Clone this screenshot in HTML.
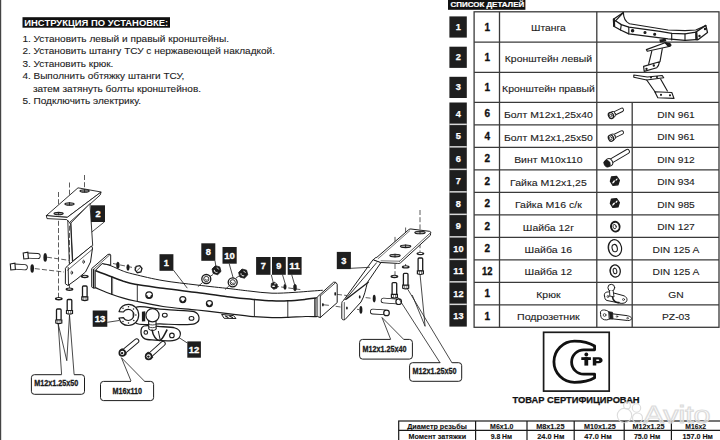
<!DOCTYPE html>
<html><head><meta charset="utf-8">
<style>
html,body{margin:0;padding:0;background:#fff;}
svg{display:block;font-family:"Liberation Sans",sans-serif;}
</style></head>
<body>
<svg width="720" height="440" viewBox="0 0 720 440">
<rect width="720" height="440" fill="#fff"/>
<rect x="0" y="0" width="1.2" height="440" fill="#444"/>
<rect x="22.5" y="17.2" width="147.5" height="10.5" fill="#111"/>
<text x="24.3" y="25.9" fill="#fff" font-weight="bold" font-size="8.4" textLength="143.9" lengthAdjust="spacingAndGlyphs">ИНСТРУКЦИЯ ПО УСТАНОВКЕ:</text>
<g fill="#1a1a1a" stroke="#1a1a1a" stroke-width="0.1" font-size="9.3">
<text x="22.4" y="41.5" textLength="206.6" lengthAdjust="spacingAndGlyphs">1. Установить левый и правый кронштейны.</text>
<text x="22.4" y="54.0" textLength="252.6" lengthAdjust="spacingAndGlyphs">2. Установить штангу ТСУ с нержавеющей накладкой.</text>
<text x="22.4" y="66.6" textLength="91.0" lengthAdjust="spacingAndGlyphs">3. Установить крюк.</text>
<text x="22.4" y="79.0" textLength="161.9" lengthAdjust="spacingAndGlyphs">4. Выполнить обтяжку штанги ТСУ,</text>
<text x="32.9" y="91.5" textLength="168.1" lengthAdjust="spacingAndGlyphs">затем затянуть болты кронштейнов.</text>
<text x="22.4" y="103.9" textLength="118.6" lengthAdjust="spacingAndGlyphs">5. Подключить электрику.</text>
</g>
<rect x="448" y="0" width="77.4" height="9.8" fill="#111"/>
<text x="450.5" y="7.2" fill="#fff" stroke="#fff" stroke-width="0.2" font-weight="bold" font-size="7.6" textLength="73.7" lengthAdjust="spacingAndGlyphs">СПИСОК ДЕТАЛЕЙ</text>
<g stroke="#3a3a3a" stroke-width="1.3" fill="none">
<rect x="474.1" y="11.8" width="244.89999999999998" height="315.5"/>
<line x1="474.1" y1="42.2" x2="719.0" y2="42.2"/>
<line x1="474.1" y1="72.4" x2="719.0" y2="72.4"/>
<line x1="474.1" y1="102.3" x2="719.0" y2="102.3"/>
<line x1="474.1" y1="124.8" x2="719.0" y2="124.8"/>
<line x1="474.1" y1="147.3" x2="719.0" y2="147.3"/>
<line x1="474.1" y1="169.8" x2="719.0" y2="169.8"/>
<line x1="474.1" y1="192.3" x2="719.0" y2="192.3"/>
<line x1="474.1" y1="214.8" x2="719.0" y2="214.8"/>
<line x1="474.1" y1="237.3" x2="719.0" y2="237.3"/>
<line x1="474.1" y1="259.8" x2="719.0" y2="259.8"/>
<line x1="474.1" y1="282.3" x2="719.0" y2="282.3"/>
<line x1="474.1" y1="304.8" x2="719.0" y2="304.8"/>
<line x1="499.5" y1="11.8" x2="499.5" y2="327.3"/>
<line x1="596.8" y1="11.8" x2="596.8" y2="327.3"/>
<line x1="632.2" y1="102.3" x2="632.2" y2="327.3"/>
</g>
<g fill="#1e1e1e">
<rect x="449.4" y="16.4" width="17.4" height="21.2"/>
<rect x="449.4" y="46.7" width="17.4" height="21.2"/>
<rect x="449.4" y="76.8" width="17.4" height="21.2"/>
<rect x="449.4" y="102.5" width="17.4" height="224.1"/>
</g>
<g fill="#d8d8d8">
<rect x="449.4" y="123.6" width="17.4" height="1.5"/>
<rect x="449.4" y="146.1" width="17.4" height="1.5"/>
<rect x="449.4" y="168.6" width="17.4" height="1.5"/>
<rect x="449.4" y="191.1" width="17.4" height="1.5"/>
<rect x="449.4" y="213.6" width="17.4" height="1.5"/>
<rect x="449.4" y="236.1" width="17.4" height="1.5"/>
<rect x="449.4" y="258.6" width="17.4" height="1.5"/>
<rect x="449.4" y="281.1" width="17.4" height="1.5"/>
<rect x="449.4" y="303.6" width="17.4" height="1.5"/>
</g>
<g fill="#fff" stroke="#fff" stroke-width="0.25" font-weight="bold" font-size="9.2" text-anchor="middle">
<text x="458.4" y="30.1">1</text>
<text x="458.4" y="60.4">2</text>
<text x="458.4" y="90.4">3</text>
<text x="458.4" y="116.6">4</text>
<text x="458.4" y="139.2">5</text>
<text x="458.4" y="161.7">6</text>
<text x="458.4" y="184.2">7</text>
<text x="458.4" y="206.7">8</text>
<text x="458.4" y="229.2">9</text>
<text x="458.4" y="251.7" textLength="10.2" lengthAdjust="spacingAndGlyphs">10</text>
<text x="458.4" y="274.2" textLength="10.2" lengthAdjust="spacingAndGlyphs">11</text>
<text x="458.4" y="296.7" textLength="10.2" lengthAdjust="spacingAndGlyphs">12</text>
<text x="458.4" y="319.2" textLength="10.2" lengthAdjust="spacingAndGlyphs">13</text>
</g>
<g fill="#111" stroke="#111" stroke-width="0.3" font-weight="bold" font-size="10" text-anchor="middle">
<text x="487.2" y="30.6">1</text>
<text x="487.2" y="60.9">1</text>
<text x="487.2" y="90.9">1</text>
<text x="487.2" y="117.1">6</text>
<text x="487.2" y="139.7">4</text>
<text x="487.2" y="162.2">2</text>
<text x="487.2" y="184.7">2</text>
<text x="487.2" y="207.2">2</text>
<text x="487.2" y="229.7">2</text>
<text x="487.2" y="252.2">2</text>
<text x="487.2" y="274.7" textLength="10.4" lengthAdjust="spacingAndGlyphs">12</text>
<text x="487.2" y="297.2">1</text>
<text x="487.2" y="319.7">1</text>
</g>
<g fill="#1a1a1a" stroke="#1a1a1a" stroke-width="0.1" font-size="9.1" text-anchor="middle">
<text x="548.4" y="31.4" textLength="34.7" lengthAdjust="spacingAndGlyphs">Штанга</text>
<text x="548.4" y="61.7" textLength="87.2" lengthAdjust="spacingAndGlyphs">Кронштейн левый</text>
<text x="548.4" y="91.8" textLength="92.6" lengthAdjust="spacingAndGlyphs">Кронштейн правый</text>
<text x="548.4" y="118.0" textLength="88.9" lengthAdjust="spacingAndGlyphs">Болт М12х1,25х40</text>
<text x="676.0" y="117.8" textLength="37.7" lengthAdjust="spacingAndGlyphs">DIN 961</text>
<text x="548.4" y="140.5" textLength="88.9" lengthAdjust="spacingAndGlyphs">Болт М12х1,25х50</text>
<text x="676.0" y="140.2" textLength="37.7" lengthAdjust="spacingAndGlyphs">DIN 961</text>
<text x="548.4" y="163.0" textLength="68.5" lengthAdjust="spacingAndGlyphs">Винт М10х110</text>
<text x="676.0" y="162.8" textLength="37.7" lengthAdjust="spacingAndGlyphs">DIN 912</text>
<text x="548.4" y="185.5" textLength="76.7" lengthAdjust="spacingAndGlyphs">Гайка М12х1,25</text>
<text x="676.0" y="185.2" textLength="37.7" lengthAdjust="spacingAndGlyphs">DIN 934</text>
<text x="548.4" y="208.0" textLength="67.0" lengthAdjust="spacingAndGlyphs">Гайка М16 с/к</text>
<text x="676.0" y="207.8" textLength="37.7" lengthAdjust="spacingAndGlyphs">DIN 985</text>
<text x="548.4" y="230.5" textLength="51.2" lengthAdjust="spacingAndGlyphs">Шайба 12г</text>
<text x="676.0" y="230.2" textLength="37.7" lengthAdjust="spacingAndGlyphs">DIN 127</text>
<text x="548.4" y="253.0" textLength="47.6" lengthAdjust="spacingAndGlyphs">Шайба 16</text>
<text x="676.0" y="252.8" textLength="46.8" lengthAdjust="spacingAndGlyphs">DIN 125 A</text>
<text x="548.4" y="275.4" textLength="47.6" lengthAdjust="spacingAndGlyphs">Шайба 12</text>
<text x="676.0" y="275.2" textLength="46.8" lengthAdjust="spacingAndGlyphs">DIN 125 A</text>
<text x="548.4" y="297.9" textLength="24.2" lengthAdjust="spacingAndGlyphs">Крюк</text>
<text x="676.0" y="297.8" textLength="15.4" lengthAdjust="spacingAndGlyphs">GN</text>
<text x="548.4" y="320.4" textLength="62.7" lengthAdjust="spacingAndGlyphs">Подрозетник</text>
<text x="676.0" y="320.2" textLength="28.0" lengthAdjust="spacingAndGlyphs">PZ-03</text>
</g>
<g fill="none" stroke="#1c1c1c" stroke-width="1.15" stroke-linejoin="round" stroke-linecap="round">
<!-- row1 beam -->
<path d="M623.4,12.5 L613.4,19.2 L613.8,26.3 L620.5,30 L628.8,33.8 L668,38.8 L685,40.4 L695.8,39.6 L698.3,39.6 L707.5,32.5 L705.8,25.4 L695.8,32.1 L685,33.8 L671.7,33.3 L660,31.3 L628.8,27.1 L621.3,24.6 L615.5,20.8 L613.4,19.2" stroke-width="1.3"/>
<path d="M623.4,12.5 C623.4,17.5 625,21.5 629.5,23.8 L668,30 L685,30.6 L695.8,30 L705.8,25.4"/>
<path d="M621.3,24.6 L620.5,30 M628.8,27.1 L628.8,33.8 M671.7,33.3 L671.7,40 M685,33.8 L685,40.4 M695.8,32.1 L695.8,39.6 M623.4,12.5 L615.5,20.8"/>
<path d="M614,19.5 L614.2,26" stroke-width="2"/>
<path d="M696.5,32.5 L697,39.5" stroke-width="1.8"/>
<circle cx="632.6" cy="30.8" r="1.2" fill="#1c1c1c"/>
<circle cx="645" cy="32.5" r="1" fill="#1c1c1c"/>
<circle cx="654.7" cy="34.2" r="1" fill="#1c1c1c"/>
<circle cx="705" cy="29" r="0.6" fill="#1c1c1c"/>
<circle cx="699.5" cy="36" r="0.6" fill="#1c1c1c"/>
<!-- row2 bracket left -->
<path d="M646.4,49.6 L665,42.7 L670.5,44.5 L670.2,46.2 L647.3,51.2 Z" fill="#fff"/>
<path d="M665,42.7 L669.5,43.2 L671,45.2 L668.5,46.5 Z" fill="#1c1c1c"/>
<path d="M659.3,39.6 L665.5,38.8 L666.5,41.2 L660,42.4 Z" fill="#1c1c1c" stroke="none"/>
<path d="M651.8,51.2 L648.6,64.3 M662.3,48.7 L660,61.6"/>
<path d="M643.6,66.4 L659.5,61.8 C659,64.5 658,66.5 656.8,67.7 L644.2,71.4 Z" fill="#fff"/>
<circle cx="646.5" cy="68.8" r="0.6" fill="#1c1c1c"/><circle cx="653.8" cy="65.5" r="0.6" fill="#1c1c1c"/>
<!-- row3 bracket right -->
<path d="M633.8,75 L647.4,77 L662.2,75.5 L663.7,77.7 L646.7,80 L633.8,77.2 Z"/>
<path d="M646.7,80 L655.5,92.5 M660.7,79.2 L667.4,91"/>
<path d="M654.8,91.8 L671.8,92.5 L674,98.4 L657.8,97.7 Z"/>
<circle cx="661" cy="94.8" r="0.5" fill="#1c1c1c"/><circle cx="670" cy="95.3" r="0.5" fill="#1c1c1c"/>
<circle cx="651" cy="77.5" r="0.5" fill="#1c1c1c"/><circle cx="657" cy="77" r="0.5" fill="#1c1c1c"/>
</g>
<g stroke="#1c1c1c" stroke-linecap="round" stroke-linejoin="round">
<!-- row4/5 bolts -->
<g id="bolt1">
<line x1="613" y1="114.2" x2="621.8" y2="109.9" stroke-width="4.4"/>
<line x1="613" y1="114.2" x2="621.8" y2="109.9" stroke-width="2.6" stroke="#fff"/>
<ellipse cx="613" cy="114.3" rx="2.4" ry="3.1" transform="rotate(-25 613 114.3)" fill="#fff" stroke-width="0.8"/>
<ellipse cx="611" cy="115.5" rx="2.5" ry="3.2" transform="rotate(-25 611 115.5)" fill="#fff" stroke-width="1.25"/>
<ellipse cx="610.8" cy="115.6" rx="1.2" ry="1.6" transform="rotate(-25 610.8 115.6)" fill="none" stroke-width="0.7"/>
</g>
<use href="#bolt1" transform="translate(0,22.6)"/>
<!-- row6 long screw -->
<line x1="609.5" y1="162" x2="627.3" y2="151.6" stroke-width="5.2"/>
<line x1="609.5" y1="162" x2="627.3" y2="151.6" stroke-width="3.4" stroke="#fff"/>
<ellipse cx="609.3" cy="162.3" rx="3.2" ry="3.9" transform="rotate(-30 609.3 162.3)" fill="#fff" stroke-width="1"/>
<ellipse cx="607" cy="163.6" rx="2.9" ry="3.6" transform="rotate(-30 607 163.6)" fill="#1c1c1c" stroke-width="0.8"/>
<!-- nuts -->
<g id="nut1">
<path d="M611.5,176.8 L616.6,176.4 L619.4,180.3 L618,184.8 L612.8,185.3 L610.3,181.3 Z" fill="#1c1c1c" stroke-width="1.2"/>
<ellipse cx="613.6" cy="181.9" rx="0.8" ry="1.9" transform="rotate(40 613.6 181.9)" fill="#fff" stroke="none"/><ellipse cx="616.5" cy="179.6" rx="0.7" ry="1.4" transform="rotate(40 616.5 179.6)" fill="#fff" stroke="none"/>
</g>
<use href="#nut1" transform="translate(0,22.2)"/>
<!-- washers -->
<ellipse cx="615.3" cy="226.7" rx="4.3" ry="4.9" transform="rotate(-15 615.3 226.7)" fill="none" stroke-width="1.9"/>
<path d="M611.5,228.5 C611,225 612,222.5 614,222" fill="none" stroke-width="1.2"/>
<ellipse cx="614.6" cy="226.6" rx="1.6" ry="2.2" transform="rotate(-15 614.6 226.6)" fill="none" stroke-width="0.8"/>
<ellipse cx="614.9" cy="248" rx="6.6" ry="8.4" transform="rotate(-12 614.9 248)" fill="none" stroke-width="1.2"/>
<path d="M609.5,252.5 C607.5,247 609,241 613,240" fill="none" stroke-width="0.8"/>
<ellipse cx="614.7" cy="248.1" rx="2.6" ry="3.7" transform="rotate(-12 614.7 248.1)" fill="none" stroke-width="1.1"/>
<ellipse cx="615.2" cy="271" rx="5.1" ry="6.1" transform="rotate(-12 615.2 271)" fill="none" stroke-width="1.3"/>
<path d="M611,274.5 C609.8,271 610.5,267 613,265.5" fill="none" stroke-width="0.7"/>
<ellipse cx="615" cy="271" rx="1.8" ry="2.8" transform="rotate(-12 615 271)" fill="none" stroke-width="1"/>
<!-- hook -->
<path d="M604.5,296 C603.5,293 606,291.5 610,292 L623,295.5 C627,296.5 628,300 626,302 C624,304 620,303.5 617,302.5 L607,300.5 C605,300 604.8,298 604.5,296 Z" fill="#fff" stroke-width="1"/>
<circle cx="611.3" cy="287.7" r="3.4" fill="#fff" stroke-width="1"/>
<path d="M609.5,290.5 L609.8,296 L614,297 L613.2,290.8" fill="#fff" stroke-width="0.9"/>
<path d="M612.5,297 C613,301 616,303 619,302.5" fill="none" stroke-width="1.6"/>
<circle cx="608" cy="296.5" r="1" fill="none" stroke-width="0.7"/>
<circle cx="623.5" cy="299.5" r="1" fill="none" stroke-width="0.7"/>
<!-- socket plate -->
<path d="M600.5,313 C599.8,311 602,309.8 604.5,310 C607,310.3 609,311.5 610,313.5 L626,315.5 C630,316 632,317.5 631.5,319 C631,320.5 628,320.8 626,320.3 L610,318.6 C608.5,320 605,320.5 602.5,319 C600.5,317.5 600.5,315 600.5,313 Z" fill="#fff" stroke-width="1"/>
<path d="M609,311.8 L612.5,312.3 L613,318.8 L609.5,319 Z" fill="#1c1c1c" stroke-width="0.8"/>
<circle cx="604.6" cy="315" r="1.4" fill="none" stroke-width="0.7"/>
<circle cx="617" cy="316.5" r="0.8" fill="none" stroke-width="0.6"/>
<circle cx="627.5" cy="318.2" r="0.8" fill="none" stroke-width="0.6"/>
</g>

<rect x="543.6" y="332.3" width="65.6" height="58.8" fill="none" stroke="#1a1a1a" stroke-width="1.7"/>
<path d="M594.6,346 C590,343 583,341.1 574.5,341.1 A20.6,20.6 0 0 0 574.5,382.3 C583,382.3 590,380.5 594.6,377.7 L594.6,374.2 L583.8,374.2 A12.2,12.2 0 0 1 583.8,349.8 L594.6,349.8 Z" fill="none" stroke="#111" stroke-width="2.8" stroke-linejoin="round"/>
<g fill="#111">
<rect x="581.3" y="357.2" width="9.6" height="2.8"/>
<rect x="584.4" y="357.2" width="3.8" height="8.4"/>
<circle cx="586.3" cy="354.5" r="1.9"/>
<path d="M592.8,357.2 L598.8,357.2 C601.5,357.2 602.6,358.6 602.6,360.3 C602.6,362 601.3,363.2 598.8,363.2 L596.3,363.2 L596.3,365.6 L592.8,365.6 Z M596.3,359.5 L596.3,361 L598.3,361 C599,361 599.3,360.7 599.3,360.25 C599.3,359.8 599,359.5 598.3,359.5 Z" fill-rule="evenodd"/>
</g>
<text x="512.5" y="403.4" font-weight="bold" font-size="9.4" fill="#111" stroke="#111" stroke-width="0.25" textLength="127.1" lengthAdjust="spacingAndGlyphs">ТОВАР СЕРТИФИЦИРОВАН</text>
<g stroke="#1a1a1a" stroke-width="1.2" fill="none">
<rect x="398.7" y="421" width="323.3" height="30"/>
<line x1="398.7" y1="430.4" x2="722" y2="430.4"/>
<line x1="475.6" y1="421" x2="475.6" y2="442"/>
<line x1="527.0" y1="421" x2="527.0" y2="442"/>
<line x1="574.2" y1="421" x2="574.2" y2="442"/>
<line x1="624.2" y1="421" x2="624.2" y2="442"/>
<line x1="671.4" y1="421" x2="671.4" y2="442"/>
</g>
<g fill="#111" stroke="#111" stroke-width="0.12" font-weight="bold" font-size="8" text-anchor="middle">
<text x="437.0" y="428.6" textLength="59.7" lengthAdjust="spacingAndGlyphs">Диаметр резьбы</text>
<text x="501.8" y="428.6" textLength="23.4" lengthAdjust="spacingAndGlyphs">M6x1.0</text>
<text x="550.3" y="428.6" textLength="28.3" lengthAdjust="spacingAndGlyphs">M8x1.25</text>
<text x="599.9" y="428.6" textLength="31.9" lengthAdjust="spacingAndGlyphs">M10x1.25</text>
<text x="648.5" y="428.6" textLength="31.9" lengthAdjust="spacingAndGlyphs">M12x1.25</text>
<text x="695.7" y="428.6" textLength="20.8" lengthAdjust="spacingAndGlyphs">M16x2</text>
<text x="437.3" y="438.6" textLength="57.7" lengthAdjust="spacingAndGlyphs">Момент затяжки</text>
<text x="501.4" y="438.6" textLength="21.4" lengthAdjust="spacingAndGlyphs">9.8 Нм</text>
<text x="550.8" y="438.6" textLength="27.2" lengthAdjust="spacingAndGlyphs">24.0 Нм</text>
<text x="598.0" y="438.6" textLength="27.3" lengthAdjust="spacingAndGlyphs">47.0 Нм</text>
<text x="647.1" y="438.6" textLength="26.4" lengthAdjust="spacingAndGlyphs">75.0 Нм</text>
<text x="697.7" y="438.6" textLength="30.5" lengthAdjust="spacingAndGlyphs">157.0 Нм</text>
</g>
<g stroke="#333" stroke-width="0.8" fill="none" stroke-dasharray="5,2.2">
<line x1="58.5" y1="192" x2="58.5" y2="298" />
<line x1="69.5" y1="182.5" x2="69.5" y2="289" />
<line x1="84.5" y1="175" x2="84.5" y2="191" />
<line x1="47" y1="257.2" x2="69.5" y2="260.4" />
<line x1="34.8" y1="268.6" x2="64" y2="272" />
<line x1="113" y1="263.5" x2="139" y2="268.8" />
<line x1="420" y1="210" x2="420" y2="232" />
<line x1="405.6" y1="227.5" x2="405.6" y2="246" />
<line x1="395" y1="236.9" x2="395" y2="255.5" />
<line x1="420" y1="236" x2="420" y2="253" />
<line x1="405.6" y1="264" x2="405.6" y2="266" />
<line x1="395" y1="264" x2="395" y2="276" />
<line x1="337" y1="294.4" x2="372.5" y2="298.4" />
<line x1="328.5" y1="305.3" x2="359" y2="309.6" />
<line x1="274" y1="286" x2="302" y2="289.8" />
</g>
<g stroke="#1c1c1c" stroke-width="0.9" fill="none" stroke-linejoin="round" stroke-linecap="round">
<path d="M78.4,187.9 L101.1,192.0 L67.5,217.2 L46.4,215.9 Z" fill="#fff"/>
<path d="M46.4,215.9 L47.0,218.6 L66.8,219.6 L69.5,222.5 L100.2,195.0 L101.1,192.0 L67.5,217.2 Z" fill="#fff"/>
<ellipse cx="84.6" cy="190.9" rx="4.6" ry="1.2" fill="#aaa" stroke-width="1.1"/>
<line x1="84.6" y1="189.70000000000002" x2="84.6" y2="192.1" stroke-width="0.9"/>
<ellipse cx="69.5" cy="203.9" rx="4.6" ry="1.2" fill="#aaa" stroke-width="1.1"/>
<line x1="69.5" y1="202.70000000000002" x2="69.5" y2="205.1" stroke-width="0.9"/>
<ellipse cx="58.6" cy="213.6" rx="4.6" ry="1.2" fill="#aaa" stroke-width="1.1"/>
<line x1="58.6" y1="212.4" x2="58.6" y2="214.79999999999998" stroke-width="0.9"/>
<path d="M70.9,223.0 L90.0,203.5 L92.7,245.5 L72.7,261.0 Z" fill="#fff"/>
<line x1="67.8" y1="220.5" x2="69.3" y2="263" />
<line x1="70.9" y1="223" x2="72.7" y2="261" />
<path d="M65.7,268.0 L67.5,265.8 L91.5,246.0 L92.5,248.0 L90.5,262.0 L85.5,272.0 L77.0,279.0 L68.0,285.5 L65.7,284.0 Z" fill="#fff" stroke-width="1"/>
<line x1="68.2" y1="267.5" x2="68.5" y2="285" />
<line x1="67.6" y1="270.2" x2="92.5" y2="249.2" stroke-width="0.7"/>
<ellipse cx="83.6" cy="261.8" rx="0.8" ry="1.6" stroke-width="0.8"/>
<ellipse cx="71.8" cy="272.7" rx="0.8" ry="1.6" stroke-width="0.8"/>
<path d="M102.1,263.5 C103.6,263.9 107.5,264.5 111.0,265.8 C114.5,267.1 119.4,269.8 123.4,271.2 C127.4,272.6 128.4,272.9 135.0,274.5 C141.6,276.1 152.7,278.9 163.0,280.6 C173.3,282.4 185.8,283.6 197.0,285.0 C208.2,286.4 221.2,287.7 230.0,288.7 C238.8,289.7 243.0,290.4 250.0,291.1 C257.0,291.9 264.7,293.0 272.0,293.2 C279.3,293.4 287.5,292.8 294.0,292.4 C300.5,292.0 306.3,291.5 311.0,291.1 C315.7,290.8 320.5,290.4 322.4,290.3 L316.3,316.6 L316.3,316.6 C314.5,316.6 310.3,316.4 305.6,316.5 C300.9,316.6 293.6,317.2 288.0,317.4 C282.4,317.6 278.3,317.8 272.0,317.6 C265.7,317.4 257.0,316.9 250.0,316.3 C243.0,315.7 238.8,314.9 230.0,313.8 C221.2,312.8 208.2,311.2 197.0,310.0 C185.8,308.8 173.3,308.0 163.0,306.5 C152.7,305.0 141.6,302.4 135.0,301.0 C128.4,299.6 127.3,299.3 123.4,298.2 C119.5,297.1 116.2,296.1 111.5,294.3 C106.8,292.5 97.9,288.7 95.2,287.6 L95.2,270.5 Z" fill="#fff" stroke="none"/>
<path d="M102.1,263.5 C103.6,263.9 107.5,264.5 111.0,265.8 C114.5,267.1 119.4,269.8 123.4,271.2 C127.4,272.6 128.4,272.9 135.0,274.5 C141.6,276.1 152.7,278.9 163.0,280.6 C173.3,282.4 185.8,283.6 197.0,285.0 C208.2,286.4 221.2,287.7 230.0,288.7 C238.8,289.7 243.0,290.4 250.0,291.1 C257.0,291.9 264.7,293.0 272.0,293.2 C279.3,293.4 287.5,292.8 294.0,292.4 C300.5,292.0 306.3,291.5 311.0,291.1 C315.7,290.8 320.5,290.4 322.4,290.3" stroke-width="1"/>
<path d="M95.2,270.5 C97.9,271.6 106.8,275.0 111.5,276.8 C116.2,278.6 119.5,279.9 123.4,281.2 C127.3,282.4 128.4,283.1 135.0,284.3 C141.6,285.5 152.7,286.9 163.0,288.3 C173.3,289.7 185.8,291.1 197.0,292.5 C208.2,293.9 221.2,295.9 230.0,297.0 C238.8,298.1 243.0,298.5 250.0,299.1 C257.0,299.7 265.7,300.5 272.0,300.8 C278.3,301.1 282.4,301.1 288.0,300.8 C293.6,300.6 300.9,299.8 305.6,299.3 C310.3,298.8 314.5,298.2 316.3,298.0" stroke-width="1.5"/>
<path d="M95.2,287.6 C97.9,288.7 106.8,292.5 111.5,294.3 C116.2,296.1 119.5,297.1 123.4,298.2 C127.3,299.3 128.4,299.6 135.0,301.0 C141.6,302.4 152.7,305.0 163.0,306.5 C173.3,308.0 185.8,308.8 197.0,310.0 C208.2,311.2 221.2,312.8 230.0,313.8 C238.8,314.9 243.0,315.7 250.0,316.3 C257.0,316.9 265.7,317.4 272.0,317.6 C278.3,317.8 282.4,317.6 288.0,317.4 C293.6,317.2 300.9,316.6 305.6,316.5 C310.3,316.4 314.5,316.6 316.3,316.6" stroke-width="1.2"/>
<line x1="95.2" y1="270.5" x2="102.1" y2="263.5" stroke-width="0.9"/>
<line x1="111.5" y1="276.8" x2="111.5" y2="294.3" stroke-width="0.9"/>
<line x1="137.3" y1="284.6" x2="137.3" y2="301.4" stroke-width="0.9"/>
<line x1="254.4" y1="299.5" x2="254.4" y2="316.6" stroke-width="0.9"/>
<line x1="287.8" y1="300.8" x2="287.8" y2="317.4" stroke-width="0.9"/>
<line x1="314.7" y1="298.2" x2="314.7" y2="316.5" stroke-width="0.9"/>
<line x1="112.6" y1="277.2" x2="112.6" y2="294.6" stroke-width="0.6"/>
<path d="M92.0,268.3 L108.0,254.4 L110.1,254.2 L110.7,255.0 L110.7,265.1 L102.1,263.5 L95.2,270.5 L95.2,288.1 L92.8,288.0 L92.0,287.2 Z" fill="#fff" stroke-width="1"/>
<line x1="94.1" y1="268.9" x2="109.6" y2="255" stroke-width="0.7"/>
<line x1="93.6" y1="269.5" x2="93.6" y2="287.5" stroke-width="1.4"/>
<path d="M316.3,298.0 L317.3,297.0 L333.6,282.2 L335.7,282.3 L337.2,284.2 L337.2,302.6 L320.3,317.5 L317.3,316.5 L316.3,316.6 Z" fill="#fff" stroke-width="1"/>
<line x1="320.3" y1="296" x2="320.3" y2="317.5" stroke-width="0.9"/>
<line x1="320.3" y1="296" x2="335.7" y2="282.6" stroke-width="0.8"/>
<line x1="317.6" y1="297.5" x2="317.6" y2="316.2" stroke-width="0.6"/>
<ellipse cx="335.2" cy="293.9" rx="0.9" ry="1.8" fill="#1c1c1c" stroke="none"/>
<ellipse cx="322.9" cy="304.7" rx="0.9" ry="1.8" fill="#1c1c1c" stroke="none"/>
<line x1="322.9" y1="304.7" x2="328.5" y2="305.3" stroke-width="0.7"/>
<circle cx="149.1" cy="295.1" r="3.3" fill="#fff" stroke-width="1.2"/>
<path d="M146.79999999999998,295.6 A2.3,2.3 0 0 0 151.4,295.6" stroke-width="1.4"/>
<circle cx="182.8" cy="299.6" r="3" fill="#fff" stroke-width="1.2"/>
<path d="M180.8,300.1 A2,2 0 0 0 184.8,300.1" stroke-width="1.4"/>
<circle cx="209.4" cy="303.6" r="3" fill="#fff" stroke-width="1.2"/>
<path d="M207.4,304.1 A2,2 0 0 0 211.4,304.1" stroke-width="1.4"/>
<path d="M222.0,314.5 L233.5,315.6 L236.0,318.5 L224.5,318.3 Z" fill="#fff" stroke-width="1"/>
<path d="M225.5,316 L228,317.5 M229.5,316 L232.5,317.6" stroke-width="1.1"/>
</g>
<g stroke="#1c1c1c" fill="#1c1c1c">
<ellipse cx="117.9" cy="265.3" rx="1.4" ry="3.3" stroke-width="0.5"/>
<ellipse cx="128" cy="267.4" rx="1.3" ry="3" stroke-width="0.5"/>
<path d="M136.2,266.4 L139.8,265.6 L142,268.5 L140.9,272 L137.3,272.7 L135.1,269.8 Z" fill="#fff" stroke-width="1.3"/>
<path d="M137.2,270.5 L140.2,267.6" fill="none" stroke-width="0.8"/>
<polygon points="221.0,271.4 217.7,274.7 213.2,273.5 212.0,269.0 215.3,265.7 219.8,266.9" stroke-width="0.8" stroke-linejoin="round"/>
<path d="M214.3,269.9 A2.3,2.3 0 0 0 217.5,272.3" fill="none" stroke="#fff" stroke-width="0.9"/>
<path d="M216.7,267.8 A2.3,2.3 0 0 1 218.8,269.59999999999997" fill="none" stroke="#fff" stroke-width="0.7"/>
<polygon points="247.8,274.8 244.4,278.2 239.8,277.0 238.6,272.4 242.0,269.0 246.6,270.2" stroke-width="0.8" stroke-linejoin="round"/>
<path d="M241.0,273.3 A2.3,2.3 0 0 0 244.2,275.70000000000005" fill="none" stroke="#fff" stroke-width="0.9"/>
<path d="M243.39999999999998,271.20000000000005 A2.3,2.3 0 0 1 245.5,273.0" fill="none" stroke="#fff" stroke-width="0.7"/>
<circle cx="206.3" cy="279" r="4.5" fill="#fff" stroke-width="1.3"/>
<circle cx="206.3" cy="279" r="2.6" fill="none" stroke-width="0.9"/>
<path d="M205.0,278.8 A1.4,1.4 0 0 0 207.5,279.6" fill="none" stroke-width="0.8"/>
<circle cx="232.7" cy="282.3" r="4.5" fill="#fff" stroke-width="1.3"/>
<circle cx="232.7" cy="282.3" r="2.6" fill="none" stroke-width="0.9"/>
<path d="M231.39999999999998,282.1 A1.4,1.4 0 0 0 233.89999999999998,282.90000000000003" fill="none" stroke-width="0.8"/>
<path d="M271.4,283.4 L274.6,282.3 L277.3,284.5 L277.1,288.1 L273.8,289.3 L271.1,287.1 Z" fill="#1c1c1c" stroke-width="0.8"/>
<ellipse cx="273.6" cy="286.3" rx="1.6" ry="0.8" fill="#fff" stroke="none"/>
<ellipse cx="275" cy="283.8" rx="1" ry="0.5" fill="#fff" stroke="none"/>
<ellipse cx="285" cy="286.8" rx="1.3" ry="2.8" stroke-width="0.4"/>
<ellipse cx="295" cy="287.6" rx="1.6" ry="3.4" stroke-width="0.4"/>
</g>
<g>
<line x1="27.5" y1="255.6" x2="37.6" y2="256.1" stroke="#1c1c1c" stroke-width="6.0" stroke-linecap="round"/>
<line x1="27.5" y1="255.6" x2="37.6" y2="256.1" stroke="#fff" stroke-width="4.4" stroke-linecap="round"/>
<path d="M23.2,253 L27.8,252.2 L28.4,258.6 L23.8,259 Z" fill="#fff" stroke="#1c1c1c" stroke-width="1.1"/>
<line x1="14.5" y1="266.6" x2="24.8" y2="267.3" stroke="#1c1c1c" stroke-width="6.0" stroke-linecap="round"/>
<line x1="14.5" y1="266.6" x2="24.8" y2="267.3" stroke="#fff" stroke-width="4.4" stroke-linecap="round"/>
<path d="M10.3,264 L14.9,263.2 L15.4,269.6 L10.8,270 Z" fill="#fff" stroke="#1c1c1c" stroke-width="1.1"/>
<ellipse cx="45.2" cy="257.4" rx="1.8" ry="4.3" fill="#1c1c1c"/>
<ellipse cx="32.2" cy="268.5" rx="1.8" ry="4.2" fill="#1c1c1c"/>
<ellipse cx="58.8" cy="298.7" rx="3.9" ry="1.7" fill="#1c1c1c"/>
<ellipse cx="58.8" cy="298.5" rx="2.1" ry="0.55" fill="#fff"/>
<rect x="56.5" y="309" width="4.6" height="11.199999999999989" rx="1" fill="#fff" stroke="#1c1c1c" stroke-width="1.3"/>
<path d="M55.8,320.0 L61.8,320.0 L61.8,323.0 Q58.8,324.40000000000003 55.8,323.0 Z" fill="#fff" stroke="#1c1c1c" stroke-width="1.2"/>
<path d="M57.8,320.2 L57.8,323.40000000000003 M60.0,320.2 L60.0,323.40000000000003" stroke="#1c1c1c" stroke-width="0.6"/>
<ellipse cx="69.5" cy="289.2" rx="3.9" ry="1.7" fill="#1c1c1c"/>
<ellipse cx="69.5" cy="289.0" rx="2.1" ry="0.55" fill="#fff"/>
<rect x="67.2" y="299.5" width="4.6" height="12.0" rx="1" fill="#fff" stroke="#1c1c1c" stroke-width="1.3"/>
<path d="M66.5,310.5 L72.5,310.5 L72.5,313.5 Q69.5,314.90000000000003 66.5,313.5 Z" fill="#fff" stroke="#1c1c1c" stroke-width="1.2"/>
<path d="M68.5,310.7 L68.5,313.90000000000003 M70.7,310.7 L70.7,313.90000000000003" stroke="#1c1c1c" stroke-width="0.6"/>
<ellipse cx="84.8" cy="276.5" rx="3.9" ry="1.7" fill="#1c1c1c"/>
<ellipse cx="84.8" cy="276.3" rx="2.1" ry="0.55" fill="#fff"/>
<rect x="82.5" y="286" width="4.6" height="11.199999999999989" rx="1" fill="#fff" stroke="#1c1c1c" stroke-width="1.3"/>
<path d="M81.8,296.9 L87.8,296.9 L87.8,299.9 Q84.8,301.3 81.8,299.9 Z" fill="#fff" stroke="#1c1c1c" stroke-width="1.2"/>
<path d="M83.8,297.09999999999997 L83.8,300.3 M86.0,297.09999999999997 L86.0,300.3" stroke="#1c1c1c" stroke-width="0.6"/>
<ellipse cx="420.4" cy="253.6" rx="3.9" ry="1.7" fill="#1c1c1c"/>
<ellipse cx="420.4" cy="253.4" rx="2.1" ry="0.55" fill="#fff"/>
<rect x="418.09999999999997" y="258" width="4.6" height="13" rx="1" fill="#fff" stroke="#1c1c1c" stroke-width="1.3"/>
<path d="M417.4,270.8 L423.4,270.8 L423.4,273.8 Q420.4,275.20000000000005 417.4,273.8 Z" fill="#fff" stroke="#1c1c1c" stroke-width="1.2"/>
<path d="M419.4,271.0 L419.4,274.20000000000005 M421.59999999999997,271.0 L421.59999999999997,274.20000000000005" stroke="#1c1c1c" stroke-width="0.6"/>
<ellipse cx="405.7" cy="266.9" rx="3.9" ry="1.7" fill="#1c1c1c"/>
<ellipse cx="405.7" cy="266.7" rx="2.1" ry="0.55" fill="#fff"/>
<rect x="403.4" y="273.4" width="4.6" height="12.300000000000011" rx="1" fill="#fff" stroke="#1c1c1c" stroke-width="1.3"/>
<path d="M402.7,285.2 L408.7,285.2 L408.7,288.2 Q405.7,289.6 402.7,288.2 Z" fill="#fff" stroke="#1c1c1c" stroke-width="1.2"/>
<path d="M404.7,285.4 L404.7,288.6 M406.9,285.4 L406.9,288.6" stroke="#1c1c1c" stroke-width="0.6"/>
<ellipse cx="394.4" cy="276.5" rx="3.9" ry="1.7" fill="#1c1c1c"/>
<ellipse cx="394.4" cy="276.3" rx="2.1" ry="0.55" fill="#fff"/>
<rect x="392.09999999999997" y="282.6" width="4.6" height="12.299999999999955" rx="1" fill="#fff" stroke="#1c1c1c" stroke-width="1.3"/>
<path d="M391.4,294.4 L397.4,294.4 L397.4,297.4 Q394.4,298.8 391.4,297.4 Z" fill="#fff" stroke="#1c1c1c" stroke-width="1.2"/>
<path d="M393.4,294.59999999999997 L393.4,297.8 M395.59999999999997,294.59999999999997 L395.59999999999997,297.8" stroke="#1c1c1c" stroke-width="0.6"/>
<line x1="383.5" y1="300.5" x2="396.5" y2="301.5" stroke="#1c1c1c" stroke-width="5.6" stroke-linecap="round"/>
<line x1="383.5" y1="300.5" x2="396.5" y2="301.5" stroke="#fff" stroke-width="4" stroke-linecap="round"/>
<circle cx="398.7" cy="301.7" r="2.8" fill="#fff" stroke="#1c1c1c" stroke-width="1.2"/>
<ellipse cx="374.2" cy="298.6" rx="1.5" ry="3.8" fill="#1c1c1c"/>
<line x1="372.8" y1="311.6" x2="384.4" y2="312.3" stroke="#1c1c1c" stroke-width="5.6" stroke-linecap="round"/>
<line x1="372.8" y1="311.6" x2="384.4" y2="312.3" stroke="#fff" stroke-width="4" stroke-linecap="round"/>
<circle cx="386.5" cy="312.9" r="2.8" fill="#fff" stroke="#1c1c1c" stroke-width="1.2"/>
<ellipse cx="360.9" cy="309.9" rx="1.5" ry="3.8" fill="#1c1c1c"/>
<line x1="122.3" y1="352.9" x2="136.6" y2="341" stroke="#1c1c1c" stroke-width="5.4" stroke-linecap="round"/>
<line x1="122.3" y1="352.9" x2="136.6" y2="341" stroke="#fff" stroke-width="3.5" stroke-linecap="round"/>
<line x1="122.3" y1="352.9" x2="124.6" y2="351.0" stroke="#1c1c1c" stroke-width="7.6"/>
<line x1="122.3" y1="352.9" x2="124.0" y2="351.5" stroke="#fff" stroke-width="5.6"/>
<circle cx="122.3" cy="352.9" r="3.8" fill="#1c1c1c"/>
<circle cx="122.3" cy="352.9" r="2.1" fill="#fff"/>
<circle cx="122.1" cy="353.09999999999997" r="1.2" fill="#1c1c1c"/>
<line x1="148.6" y1="356.4" x2="163" y2="343.6" stroke="#1c1c1c" stroke-width="5.4" stroke-linecap="round"/>
<line x1="148.6" y1="356.4" x2="163" y2="343.6" stroke="#fff" stroke-width="3.5" stroke-linecap="round"/>
<line x1="148.6" y1="356.4" x2="150.8" y2="354.4" stroke="#1c1c1c" stroke-width="7.6"/>
<line x1="148.6" y1="356.4" x2="150.2" y2="354.9" stroke="#fff" stroke-width="5.6"/>
<circle cx="148.6" cy="356.4" r="3.8" fill="#1c1c1c"/>
<circle cx="148.6" cy="356.4" r="2.1" fill="#fff"/>
<circle cx="148.4" cy="356.59999999999997" r="1.2" fill="#1c1c1c"/>
</g>
<g stroke="#1c1c1c" stroke-width="1" fill="#fff" stroke-linejoin="round">
<path d="M144.0,326.0 C147.2,325.0 154.8,326.3 160.0,326.6 C165.2,326.9 171.6,327.0 175.0,328.0 C178.4,329.0 179.7,330.7 180.2,332.5 C180.7,334.3 179.7,337.4 178.0,338.8 C176.3,340.2 173.8,340.7 170.0,340.9 C166.2,341.1 159.2,340.6 155.0,340.2 C150.8,339.8 146.8,339.9 144.5,338.6 C142.2,337.3 141.1,334.6 141.0,332.5 C140.9,330.4 140.8,327.0 144.0,326.0 Z" stroke-width="1.3"/>
<circle cx="145.8" cy="332.4" r="1.8" fill="none" stroke-width="1.1"/>
<circle cx="171.9" cy="335.4" r="2.3" fill="none" stroke-width="1.1"/>
<path d="M136.2,307.2 C140.2,304.9 153.0,308.7 160.0,309.2 C167.0,309.7 172.3,309.9 178.0,310.3 C183.7,310.7 190.5,310.4 194.0,311.6 C197.5,312.8 198.8,315.5 199.0,317.5 C199.2,319.5 198.2,322.4 195.0,323.6 C191.8,324.8 185.8,324.6 180.0,324.6 C174.2,324.7 167.3,324.1 160.0,323.9 C152.7,323.7 140.2,326.0 136.2,323.2 C132.2,320.4 132.2,309.5 136.2,307.2 Z" stroke-width="1.2"/>
<ellipse cx="164.8" cy="315.2" rx="2.4" ry="1.9" fill="none" stroke-width="1.1"/>
<ellipse cx="191.5" cy="318.4" rx="2.4" ry="1.9" fill="none" stroke-width="1.1"/>
<path d="M119,311.6 C120.5,306.5 124.5,304.3 128.5,304.3 C134,304.3 138.6,308.8 138.7,314.9 C138.7,320.8 134.2,325.5 128.3,325.5 C123.8,325.5 120.3,322.6 119,318 L123.4,317.6 C124.3,319.4 126.2,320.5 128.2,320.5 C131.3,320.5 133.8,318 133.8,314.9 C133.8,311.8 131.3,309.3 128.2,309.3 C126.2,309.3 124.4,310.4 123.4,312 Z" stroke-width="1.2"/>
<circle cx="128.5" cy="306.8" r="0.75" fill="#1c1c1c" stroke="none"/>
<circle cx="133.5" cy="309" r="0.75" fill="#1c1c1c" stroke="none"/>
<circle cx="135.9" cy="314.9" r="0.75" fill="#1c1c1c" stroke="none"/>
<circle cx="133.8" cy="320.6" r="0.75" fill="#1c1c1c" stroke="none"/>
<circle cx="128.5" cy="322.9" r="0.75" fill="#1c1c1c" stroke="none"/>
<circle cx="123" cy="321.5" r="0.75" fill="#1c1c1c" stroke="none"/>
<circle cx="123" cy="308.3" r="0.75" fill="#1c1c1c" stroke="none"/>
<path d="M141.9,311.8 L145.2,311.2 L145.2,321.2 L141.9,321.6 Z" fill="#1c1c1c" stroke="none"/>
<path d="M148.6,321 L148.8,329 C150.5,331 154.5,331 156.2,329 L156,321 Z" stroke-width="1.1"/>
<path d="M148.7,324 C150.5,325.3 154.5,325.3 156.1,324 M148.8,326.8 C150.5,328 154.5,328 156.1,326.8" fill="none" stroke-width="0.8"/>
<path d="M152,329.5 C152.8,335.5 156.5,341 159.5,340.6 C162.5,340.2 164.5,334 167.2,329.5" fill="none" stroke-width="1.5"/>
<path d="M158.3,331 L160.2,339.8" fill="none" stroke-width="1"/>
<circle cx="152.5" cy="315.3" r="6.6" stroke-width="1.2"/>
</g>
<g stroke="#1c1c1c" stroke-width="0.9" fill="#fff" stroke-linejoin="round" stroke-linecap="round">
<path d="M373.6,259.6 L381,262.5 L367.4,282.4 C365.5,290 364.5,296 361,302 L345,319.6 C343,320.3 341.8,319.5 341.8,318 L341.8,303.5 C341.8,302 342.5,301 343.5,300.3 Z" stroke-width="1"/>
<line x1="376.5" y1="262.8" x2="345.2" y2="299.8" />
<line x1="368.3" y1="282.2" x2="346.5" y2="299" stroke-width="1.3"/>
<line x1="344.3" y1="302.5" x2="344.3" y2="318.8" stroke-width="0.7"/>
<ellipse cx="359.7" cy="296.9" rx="0.9" ry="1.6" fill="#1c1c1c" stroke="none"/>
<ellipse cx="346.9" cy="308" rx="0.9" ry="1.6" fill="#1c1c1c" stroke="none"/>
<path d="M373.6,259.6 C374.5,258 375.5,257.6 376.9,257.3 L408.8,229.6 C409.5,229 410.3,228.9 411,229 L429.5,231.3 C430.8,231.5 431,232.3 430.6,233.3 L430.4,235.3 L400.5,262.8 C399.5,263.6 398.5,263.6 397.5,263.4 L381,262.5 Z" stroke-width="1"/>
<line x1="430.4" y1="232.8" x2="399.6" y2="261.2" stroke-width="0.7"/>
<line x1="378.2" y1="258.6" x2="409.7" y2="230.8" stroke-width="0.6"/>
<line x1="381" y1="260.8" x2="399.6" y2="261.2" stroke-width="0.6"/>
<ellipse cx="420" cy="232.5" rx="5.2" ry="1.3" fill="#aaa" stroke-width="1.1"/>
<line x1="420" y1="231.2" x2="420" y2="233.8" stroke-width="0.9"/>
<ellipse cx="405.6" cy="246.3" rx="5.2" ry="1.3" fill="#aaa" stroke-width="1.1"/>
<line x1="405.6" y1="245.0" x2="405.6" y2="247.60000000000002" stroke-width="0.9"/>
<ellipse cx="395" cy="255.6" rx="5.2" ry="1.3" fill="#aaa" stroke-width="1.1"/>
<line x1="395" y1="254.29999999999998" x2="395" y2="256.9" stroke-width="0.9"/>
</g>
<rect x="91" y="205.3" width="14.0" height="16.7" fill="#1e1e1e"/>
<text x="98.0" y="217.0" fill="#fff" stroke="#fff" stroke-width="0.3" font-weight="bold" font-size="9.2" text-anchor="middle">2</text>
<rect x="159.5" y="254.2" width="13.9" height="16.6" fill="#1e1e1e"/>
<text x="166.4" y="265.8" fill="#fff" stroke="#fff" stroke-width="0.3" font-weight="bold" font-size="9.2" text-anchor="middle">1</text>
<rect x="201.3" y="243.3" width="14.0" height="17.5" fill="#1e1e1e"/>
<text x="208.3" y="255.4" fill="#fff" stroke="#fff" stroke-width="0.3" font-weight="bold" font-size="9.2" text-anchor="middle">8</text>
<rect x="222.5" y="247" width="14.2" height="16.7" fill="#1e1e1e"/>
<text x="229.6" y="258.6" fill="#fff" stroke="#fff" stroke-width="0.3" font-weight="bold" font-size="9.2" text-anchor="middle" textLength="10.6" lengthAdjust="spacingAndGlyphs">10</text>
<rect x="256.1" y="257" width="14.4" height="17.8" fill="#1e1e1e"/>
<text x="263.3" y="269.2" fill="#fff" stroke="#fff" stroke-width="0.3" font-weight="bold" font-size="9.2" text-anchor="middle">7</text>
<rect x="272" y="257" width="13.8" height="17.8" fill="#1e1e1e"/>
<text x="278.9" y="269.2" fill="#fff" stroke="#fff" stroke-width="0.3" font-weight="bold" font-size="9.2" text-anchor="middle">9</text>
<rect x="287.7" y="257" width="13.9" height="17.8" fill="#1e1e1e"/>
<text x="294.6" y="269.2" fill="#fff" stroke="#fff" stroke-width="0.3" font-weight="bold" font-size="9.2" text-anchor="middle" textLength="10.6" lengthAdjust="spacingAndGlyphs">11</text>
<rect x="336.8" y="251.9" width="14.1" height="17.2" fill="#1e1e1e"/>
<text x="343.9" y="263.8" fill="#fff" stroke="#fff" stroke-width="0.3" font-weight="bold" font-size="9.2" text-anchor="middle">3</text>
<rect x="92.7" y="310.5" width="14.6" height="16.3" fill="#1e1e1e"/>
<text x="100.0" y="321.9" fill="#fff" stroke="#fff" stroke-width="0.3" font-weight="bold" font-size="9.2" text-anchor="middle" textLength="10.6" lengthAdjust="spacingAndGlyphs">13</text>
<rect x="187.3" y="341.4" width="13.6" height="16.3" fill="#1e1e1e"/>
<text x="194.1" y="352.8" fill="#fff" stroke="#fff" stroke-width="0.3" font-weight="bold" font-size="9.2" text-anchor="middle" textLength="10.6" lengthAdjust="spacingAndGlyphs">12</text>
<g stroke="#1c1c1c" stroke-width="0.8" fill="none">
<line x1="104.5" y1="221.8" x2="91.8" y2="232" />
<line x1="173.4" y1="270.1" x2="187.3" y2="288.2" />
<line x1="215" y1="260.8" x2="215.8" y2="265.8" />
<line x1="229.2" y1="263.7" x2="233.3" y2="278.3" />
<line x1="271.3" y1="274.7" x2="273.3" y2="283" />
<line x1="282.5" y1="274.7" x2="285.3" y2="284" />
<line x1="291.7" y1="274.7" x2="294.7" y2="285" />
<line x1="350.9" y1="268.3" x2="369.9" y2="267.3" />
<line x1="107.3" y1="322.3" x2="119.1" y2="320.5" />
<line x1="187.3" y1="343" x2="179.1" y2="337.7" />
<line x1="202.5" y1="282.6" x2="197.9" y2="286.6" />
<line x1="228.8" y1="286.2" x2="225" y2="289.5" />
<line x1="236" y1="278" x2="239" y2="276" />
<line x1="210" y1="276.5" x2="213" y2="274.5" />
<path d="M61.6,374.5 L58.2,324 L66.8,360.7 L69.5,315 L74.1,374.5"/>
<path d="M131,381 L121.4,357.7 L144.3,381"/>
<path d="M390.6,339.2 L382,317.5 L403.5,339.2"/>
<path d="M440.2,363 L398.1,297.5 M452.1,363 L407,288 M425.1,326.3 L412.2,295 M425.1,326.3 L420,274"/>
</g>
<path d="M61.6,374.7 L34.4,374.7 Q31.4,374.7 31.4,377.7 L31.4,391.3 Q31.4,394.3 34.4,394.3 L81.5,394.3 Q84.5,394.3 84.5,391.3 L84.5,377.7 Q84.5,374.7 81.5,374.7 L74.1,374.7" fill="none" stroke="#1c1c1c" stroke-width="1"/>
<text x="34.2" y="385.6" font-weight="bold" font-size="8.2" fill="#1a1a1a" stroke="#1a1a1a" stroke-width="0.3" textLength="44" lengthAdjust="spacingAndGlyphs">M12x1.25x50</text>
<path d="M131,381.4 L103.5,381.4 Q100.5,381.4 100.5,384.4 L100.5,397.6 Q100.5,400.6 103.5,400.6 L150.6,400.6 Q153.6,400.6 153.6,397.6 L153.6,384.4 Q153.6,381.4 150.6,381.4 L144.3,381.4" fill="none" stroke="#1c1c1c" stroke-width="1"/>
<text x="112.4" y="393.9" font-weight="bold" font-size="8.2" fill="#1a1a1a" stroke="#1a1a1a" stroke-width="0.3" textLength="29.7" lengthAdjust="spacingAndGlyphs">M16x110</text>
<path d="M390.6,339.4 L362.6,339.4 Q359.6,339.4 359.6,342.4 L359.6,356.1 Q359.6,359.1 362.6,359.1 L409.4,359.1 Q412.4,359.1 412.4,356.1 L412.4,342.4 Q412.4,339.4 409.4,339.4 L403.5,339.4" fill="none" stroke="#1c1c1c" stroke-width="1"/>
<text x="362.4" y="352.1" font-weight="bold" font-size="8.2" fill="#1a1a1a" stroke="#1a1a1a" stroke-width="0.3" textLength="44" lengthAdjust="spacingAndGlyphs">M12x1.25x40</text>
<path d="M440.2,362.7 L412.6,362.7 Q409.6,362.7 409.6,365.7 L409.6,378.3 Q409.6,381.3 412.6,381.3 L458.7,381.3 Q461.7,381.3 461.7,378.3 L461.7,365.7 Q461.7,362.7 458.7,362.7 L452.1,362.7" fill="none" stroke="#1c1c1c" stroke-width="1"/>
<text x="412.5" y="373.8" font-weight="bold" font-size="8.2" fill="#1a1a1a" stroke="#1a1a1a" stroke-width="0.3" textLength="44" lengthAdjust="spacingAndGlyphs">M12x1.25x50</text>
<g fill="none" stroke="#d9d9d9" stroke-width="1.1" opacity="0.9">
<circle cx="624.5" cy="415.5" r="7.2"/>
<circle cx="627" cy="405.5" r="3.4"/>
<circle cx="636.5" cy="408" r="4.2"/>
<circle cx="637.5" cy="418" r="5"/>
<text x="643.5" y="422.5" font-size="23" font-family="Liberation Sans" fill="#fff" fill-opacity="0.55" textLength="67" lengthAdjust="spacingAndGlyphs">Avito</text>
</g>

</svg>
</body></html>
